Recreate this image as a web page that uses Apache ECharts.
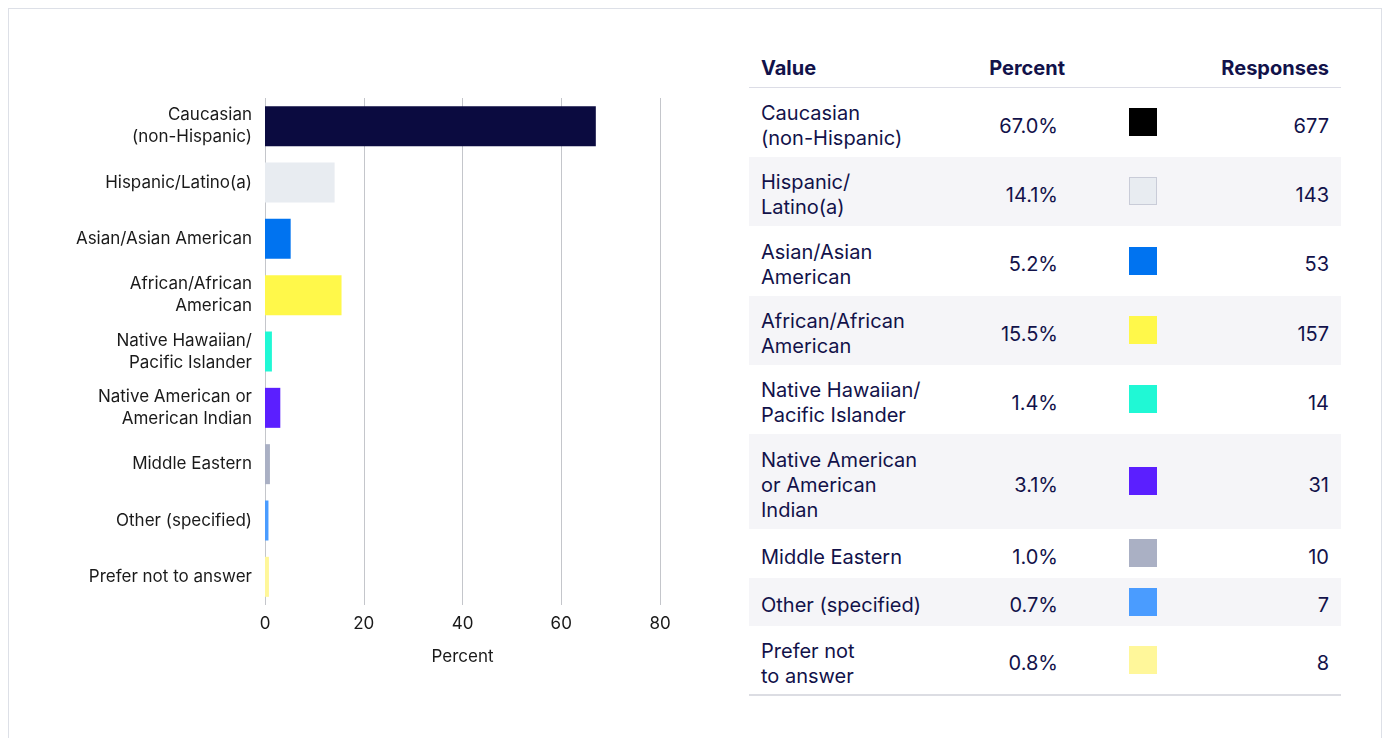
<!DOCTYPE html>
<html>
<head>
<meta charset="utf-8">
<script src="https://cdn.jsdelivr.net/npm/echarts@6/dist/echarts.min.js"></script>
<style>
  body { margin: 0; background: #fff; font-family: Inter, "Noto Sans", sans-serif; }
  #frame { position: absolute; left: 8px; top: 8px; width: 1374px; height: 760px; border: 1px solid #dde0e7; box-sizing: border-box; }
  #chart { position: absolute; left: 0; top: 0; width: 740px; height: 738px; }
  #tbl { position: absolute; left: 749px; top: 48px; width: 592px; table-layout: fixed; border-collapse: collapse; color: #12124a; font-size: 20px; }
  #tbl th { font-weight: 700; height: 39px; padding: 0 12px; border-bottom: 1px solid #dcdde6; vertical-align: middle; }
  #tbl td { padding: 0 12px; line-height: 25px; white-space: pre-line; vertical-align: middle; }
  #tbl td.txt { padding-top: 8px; }
  #tbl td.pct { padding-right: 19px; }
  #tbl tr.alt td { background: #f5f5f8; }
  #tbl tbody tr:last-child td { border-bottom: 2px solid #dcdde3; }
  .sw { display: inline-block; width: 28px; height: 28px; box-sizing: border-box; vertical-align: middle; }
</style>
</head>
<body>
<div id="frame"></div>
<div id="chart"></div>
<table id="tbl"></table>
<script>
// bar labels (left chart) and table labels (wrapped differently)
var axisLabels = ['Caucasian\n(non-Hispanic)', 'Hispanic/Latino(a)', 'Asian/Asian American', 'African/African\nAmerican',
  'Native Hawaiian/\nPacific Islander', 'Native American or\nAmerican Indian', 'Middle Eastern', 'Other (specified)', 'Prefer not to answer'];
var tableLabels = ['Caucasian\n(non-Hispanic)', 'Hispanic/\nLatino(a)', 'Asian/Asian\nAmerican', 'African/African\nAmerican',
  'Native Hawaiian/\nPacific Islander', 'Native American\nor American\nIndian', 'Middle Eastern', 'Other (specified)', 'Prefer not\nto answer'];
var percents = [67.0, 14.1, 5.2, 15.5, 1.4, 3.1, 1.0, 0.7, 0.8];
var responses = [677, 143, 53, 157, 14, 31, 10, 7, 8];
var xTicks = [0, 20, 40, 60, 80];

var barColors = ['#0b0b40', '#e8ecf1', '#0073f0', '#fff84a', '#20f8d5', '#5b1fff', '#aab0c4', '#4a9cff', '#fff79a'];
var swatchColors = ['#000000', '#e8ecf1', '#0073f0', '#fff84a', '#20f8d5', '#5b1fff', '#aab0c4', '#4a9cff', '#fff79a'];
var rowHeights = [69, 69, 70, 69, 69, 95, 49, 48, 69];

var chart = echarts.init(document.getElementById('chart'));
var option = {
  animation: false,
  textStyle: { fontFamily: 'Inter, "Noto Sans", sans-serif' },
  grid: { left: 265, right: 80, top: 98, height: 507 },
  xAxis: {
    type: 'value',
    min: xTicks[0],
    max: xTicks[xTicks.length - 1],
    interval: 20,
    name: 'Percent',
    nameLocation: 'middle',
    nameGap: 43,
    nameTextStyle: { fontSize: 17, color: '#1a1a1a' },
    axisLine: { show: false },
    axisTick: { show: false },
    axisLabel: { fontSize: 17, color: '#1a1a1a', margin: 10 },
    splitLine: { lineStyle: { color: '#c4c6cb', width: 1 } }
  },
  yAxis: {
    type: 'category',
    inverse: true,
    data: axisLabels,
    axisLine: { show: false },
    axisTick: { show: false },
    axisLabel: { fontSize: 17, color: '#1a1a1a', margin: 13, lineHeight: 22, align: 'right' }
  },
  series: [{
    type: 'bar',
    barWidth: 40,
    data: percents.map(function (v, i) { return { value: v, itemStyle: { color: barColors[i] } }; })
  }]
};
chart.setOption(option);

// table
var html = '<colgroup><col style="width:220px"><col style="width:108px"><col style="width:132px"><col style="width:132px"></colgroup>' +
  '<thead><tr><th style="text-align:left">Value</th><th style="text-align:right">Percent</th><th></th><th style="text-align:right">Responses</th></tr></thead><tbody>';
for (var i = 0; i < tableLabels.length; i++) {
  var border = i === 1 ? 'border:1px solid #c9ccd8;' : '';
  html += '<tr class="' + (i % 2 ? 'alt' : '') + '" style="height:' + rowHeights[i] + 'px">' +
    '<td class="txt" style="text-align:left">' + tableLabels[i] + '</td>' +
    '<td class="txt pct" style="text-align:right">' + percents[i].toFixed(1) + '%</td>' +
    '<td style="text-align:center"><span class="sw" style="background:' + swatchColors[i] + ';' + border + '"></span></td>' +
    '<td class="txt" style="text-align:right">' + responses[i] + '</td></tr>';
}
html += '</tbody>';
document.getElementById('tbl').innerHTML = html;
</script>
</body>
</html>
